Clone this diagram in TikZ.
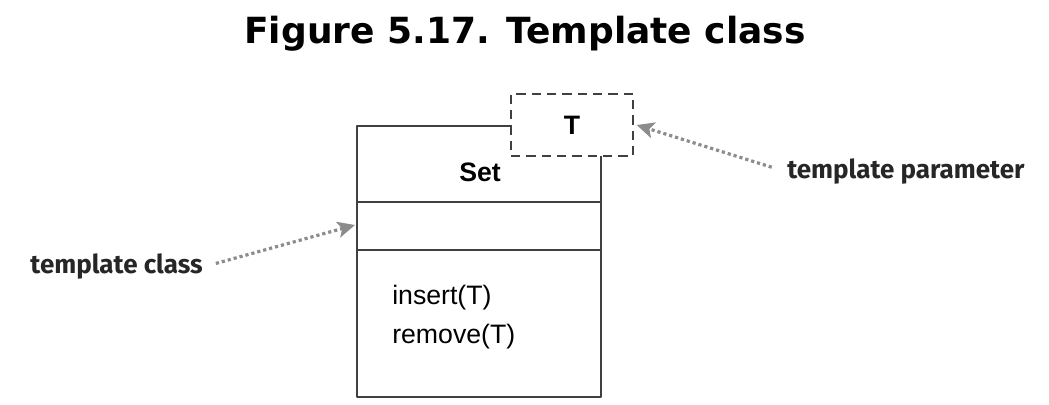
\documentclass[tikz,border=0pt]{standalone}
\usepackage{fontspec}
\setmainfont{Liberation Sans}
\newfontfamily\titlefont{DejaVu Sans}
\newfontfamily\notefont{Fira Sans}
\usetikzlibrary{arrows.meta}
\tikzset{>=latex,
    umlline/.style={draw=black!75, line width=1.5pt},
    parambox/.style={draw=black!75, line width=1.5pt, dash pattern=on 7pt off 4.5pt, fill=white,
        minimum width=91.5pt, minimum height=46.5pt, inner sep=0pt},
    umltext/.style={font=\fontsize{20}{24}\selectfont, inner sep=0pt},
    notetext/.style={font=\notefont\bfseries\fontsize{19.5}{23}\selectfont, text=black!85, inner sep=0pt},
    note/.style={draw=black!45, line width=2.4pt, dash pattern=on 2.4pt off 2.2pt,
        -{Stealth[length=13pt, width=12pt, inset=3pt, fill=black!45]}}
}

\begin{document}
\begin{tikzpicture}[x=0.75pt, y=-0.75pt, line join = round]
    \useasboundingbox (0,0) rectangle (1049,404);
    \node[font=\titlefont\bfseries\fontsize{27}{32}\selectfont] (title) at (525,34) {Figure 5.17. Template class};

    % class box with its compartments
    \node[umlline, minimum width=183pt, minimum height=203.25pt, inner sep=0pt] (set) at (479,261.5) {};
    \coordinate (div1) at (479,202);
    \coordinate (div2) at (479,250);
    \draw[umlline] (set.west |- div1) -- (set.east |- div1);
    \draw[umlline] (set.west |- div2) -- (set.east |- div2);
    \node[umltext, font=\bfseries\fontsize{20}{24}\selectfont] (setname) at (480,172) {Set};
    \node[umltext, anchor=west] (insert) at (392,298) {insert(T)};
    \node[umltext, anchor=west] (remove) at (392,337) {remove(T)};

    % template parameter
    \node[parambox, font=\bfseries\fontsize{20}{24}\selectfont] (param) at (572,125) {T};

    % notes
    \node[notetext, anchor=west] (tparam) at (787,172) {template parameter};
    \node[notetext, anchor=east] (tclass) at (203,267) {template class};
    \coordinate (attr) at (355,225);
    \draw[note, shorten <=12pt] (tparam.west) -- ([xshift=2pt]param.east);
    \draw[note, shorten <=10pt] (tclass.east) -- (attr);
\end{tikzpicture}
\end{document}
